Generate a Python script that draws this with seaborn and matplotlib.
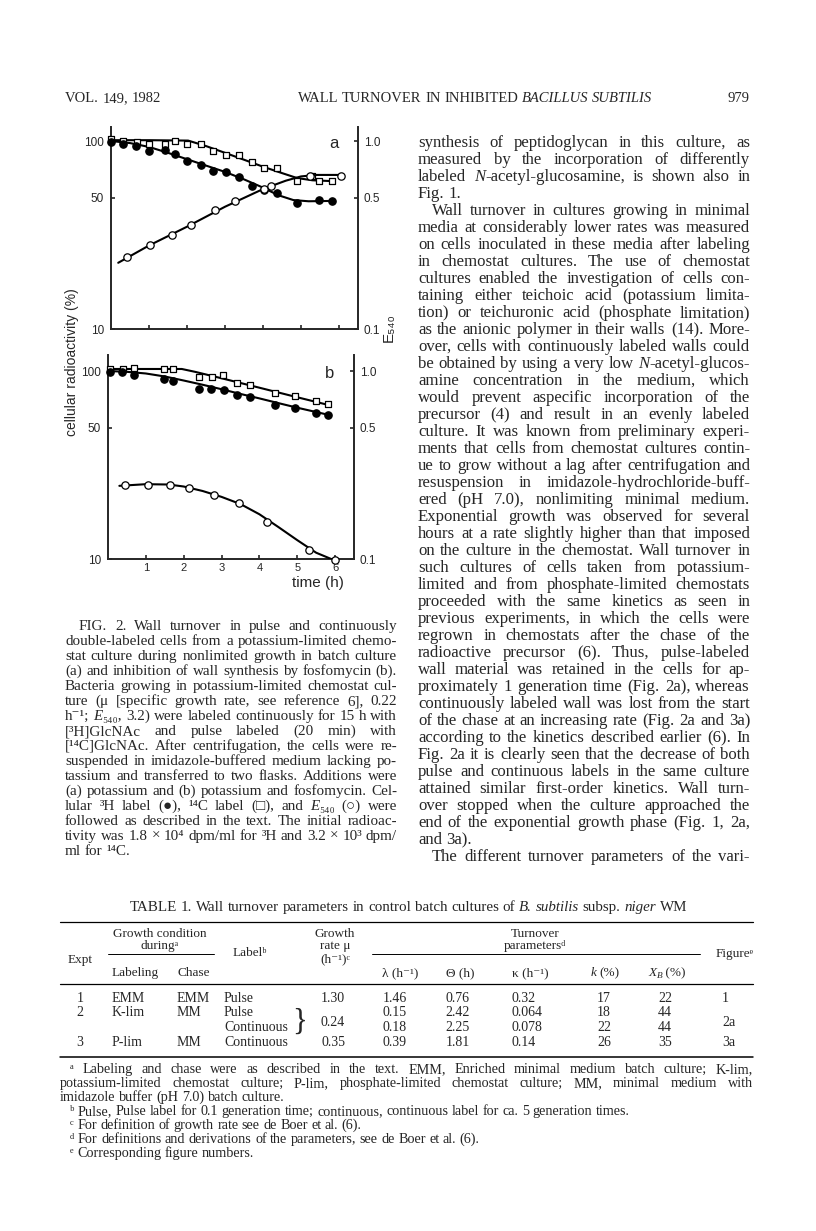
import matplotlib.pyplot as plt
import seaborn as sns
from matplotlib.lines import Line2D
from matplotlib.ticker import FixedLocator, NullLocator

W, H = 816, 1231
SERIF = ['Liberation Serif', 'DejaVu Serif', 'DejaVu Sans']
SANS = ['Liberation Sans', 'DejaVu Sans']

# ---------------- Fig. 2a : potassium added ----------------
# 14C pulse label (open squares), % of initial
hours_pulse_a = [0.0, 0.32, 0.68, 1.01, 1.43, 1.68, 2.01, 2.36, 2.69, 3.03, 3.38, 3.70, 4.03, 4.36, 4.89, 5.30, 5.48, 5.81]
pulse_a = [103, 100, 98.8, 96.8, 96.4, 99.6, 96.8, 96.4, 88.4, 83.8, 84.5, 77.2, 72.0, 71.7, 61.6, 65.5, 60.9, 60.9]
# 3H continuous label (filled circles)
hours_cont_a = [0.0, 0.32, 0.66, 1.01, 1.43, 1.68, 2.01, 2.36, 2.69, 3.03, 3.38, 3.70, 4.03, 4.36, 4.90, 5.48, 5.81]
cont_a = [98.8, 96.0, 94.0, 89.0, 90.0, 85.6, 77.9, 74.1, 69.1, 68.3, 64.2, 57.3, 54.9, 53.0, 46.6, 48.8, 48.1]
# E540 (open circles)
hours_e540_a = [0.41, 1.03, 1.61, 2.11, 2.74, 3.26, 4.03, 4.20, 5.24, 6.04]
e540_a = [0.242, 0.281, 0.318, 0.357, 0.430, 0.480, 0.556, 0.575, 0.655, 0.655]
# hand drawn curves
line_pulse_a_h = [0.0, 1.0, 2.03, 2.5, 3.0, 3.5, 4.0, 4.5, 4.9, 5.3, 5.81]
line_pulse_a = [101, 101, 100.5, 94, 86.5, 79.5, 73, 67.5, 63.5, 61.8, 61.2]
line_cont_a_h = [0.0, 0.5, 1.0, 1.5, 2.0, 2.5, 3.0, 3.5, 4.0, 4.4, 4.8, 5.2, 5.81]
line_cont_a = [100, 97.5, 93, 86.5, 80, 74, 68.5, 62.5, 56.5, 51.5, 48.5, 47.8, 48]
line_e540_a_h = [0.19, 1.0, 2.0, 3.0, 4.0, 4.6, 5.0, 5.4, 6.04]
line_e540_a = [0.225, 0.278, 0.35, 0.447, 0.555, 0.615, 0.648, 0.66, 0.66]

# ---------------- Fig. 2b : potassium + fosfomycin ----------------
hours_pulse_b = [0.04, 0.39, 0.70, 1.49, 1.73, 2.41, 2.74, 3.05, 3.42, 3.74, 4.42, 4.93, 5.50, 5.82]
pulse_b = [102.5, 102, 103.3, 102.5, 102.5, 92.6, 93.3, 94.8, 86.3, 84.6, 76.4, 73.4, 69.0, 66.8]
hours_cont_b = [0.04, 0.36, 0.69, 1.49, 1.73, 2.41, 2.72, 3.07, 3.42, 3.74, 4.42, 4.93, 5.50, 5.82]
cont_b = [99.2, 98.4, 95.2, 90.7, 88.5, 80.6, 80.6, 79.6, 74.6, 73.1, 66.3, 63.9, 60.1, 58.4]
hours_e540_b = [0.46, 1.05, 1.64, 2.13, 2.80, 3.47, 4.21, 5.30, 6.0]
e540_b = [0.249, 0.249, 0.248, 0.239, 0.218, 0.198, 0.158, 0.111, 0.099]
line_pulse_b_h = [0.0, 1.95, 2.3, 3.0, 4.0, 5.0, 5.82]
line_pulse_b = [102.5, 102.5, 99, 91.5, 81.5, 72.5, 66]
line_cont_b_h = [0.0, 0.5, 1.0, 1.5, 2.0, 2.5, 3.0, 3.5, 4.0, 4.5, 5.0, 5.5, 5.82]
line_cont_b = [100, 99, 97, 93.5, 89, 84.5, 80, 75.5, 71.5, 67.5, 63.8, 60.5, 58.5]
line_e540_b_h = [0.3, 1.0, 1.6, 2.0, 2.5, 3.0, 3.5, 4.0, 4.5, 5.0, 5.5, 5.95]
line_e540_b = [0.245, 0.25, 0.249, 0.243, 0.23, 0.214, 0.196, 0.173, 0.148, 0.126, 0.108, 0.099]

hour_ticks = [1, 2, 3, 4, 5, 6]
left_ticks = [10, 50, 100]
right_ticks = [0.1, 0.5, 1.0]

# ---------------- page text ----------------
header_left = "VOL. 149, 1982"
header_title = "WALL TURNOVER IN INHIBITED _BACILLUS SUBTILIS_"
page_number = "979"

caption_lines = [
    "FIG. 2. Wall turnover in pulse and continuously",
    "double-labeled cells from a potassium-limited chemo-",
    "stat culture during nonlimited growth in batch culture",
    "(a) and inhibition of wall synthesis by fosfomycin (b).",
    "Bacteria growing in potassium-limited chemostat cul-",
    "ture (μ [specific growth rate, see reference 6], 0.22",
    "h⁻¹; _E_₅₄₀, 3.2) were labeled continuously for 15 h with",
    "[³H]GlcNAc and pulse labeled (20 min) with",
    "[¹⁴C]GlcNAc. After centrifugation, the cells were re-",
    "suspended in imidazole-buffered medium lacking po-",
    "tassium and transferred to two flasks. Additions were",
    "(a) potassium and (b) potassium and fosfomycin. Cel-",
    "lular ³H label (●), ¹⁴C label (□), and _E_₅₄₀ (○) were",
    "followed as described in the text. The initial radioac-",
    "tivity was 1.8 × 10⁴ dpm/ml for ³H and 3.2 × 10³ dpm/",
    "ml for ¹⁴C.",
]

body_lines = [
    "synthesis of peptidoglycan in this culture, as",
    "measured by the incorporation of differently",
    "labeled _N_-acetyl-glucosamine, is shown also in",
    "Fig. 1.",
    "Wall turnover in cultures growing in minimal",
    "media at considerably lower rates was measured",
    "on cells inoculated in these media after labeling",
    "in chemostat cultures. The use of chemostat",
    "cultures enabled the investigation of cells con-",
    "taining either teichoic acid (potassium limita-",
    "tion) or teichuronic acid (phosphate limitation)",
    "as the anionic polymer in their walls (14). More-",
    "over, cells with continuously labeled walls could",
    "be obtained by using a very low _N_-acetyl-glucos-",
    "amine concentration in the medium, which",
    "would prevent aspecific incorporation of the",
    "precursor (4) and result in an evenly labeled",
    "culture. It was known from preliminary experi-",
    "ments that cells from chemostat cultures contin-",
    "ue to grow without a lag after centrifugation and",
    "resuspension in imidazole-hydrochloride-buff-",
    "ered (pH 7.0), nonlimiting minimal medium.",
    "Exponential growth was observed for several",
    "hours at a rate slightly higher than that imposed",
    "on the culture in the chemostat. Wall turnover in",
    "such cultures of cells taken from potassium-",
    "limited and from phosphate-limited chemostats",
    "proceeded with the same kinetics as seen in",
    "previous experiments, in which the cells were",
    "regrown in chemostats after the chase of the",
    "radioactive precursor (6). Thus, pulse-labeled",
    "wall material was retained in the cells for ap-",
    "proximately 1 generation time (Fig. 2a), whereas",
    "continuously labeled wall was lost from the start",
    "of the chase at an increasing rate (Fig. 2a and 3a)",
    "according to the kinetics described earlier (6). In",
    "Fig. 2a it is clearly seen that the decrease of both",
    "pulse and continuous labels in the same culture",
    "attained similar first-order kinetics. Wall turn-",
    "over stopped when the culture approached the",
    "end of the exponential growth phase (Fig. 1, 2a,",
    "and 3a).",
    "The different turnover parameters of the vari-",
]
body_indent = {4, 42}
body_last = {3, 41}

table_title = "TABLE 1. Wall turnover parameters in control batch cultures of _B. subtilis_ subsp. _niger_ WM"
expt = ["1", "2", "", "3"]
labeling = ["EMM", "K-lim", "", "P-lim"]
chase = ["EMM", "MM", "", "MM"]
label = ["Pulse", "Pulse", "Continuous", "Continuous"]
growth_rate = ["1.30", "", "", "0.35"]
lam = ["1.46", "0.15", "0.18", "0.39"]
theta = ["0.76", "2.42", "2.25", "1.81"]
kappa = ["0.32", "0.064", "0.078", "0.14"]
k_pct = ["17", "18", "22", "26"]
xb_pct = ["22", "44", "44", "35"]
figure_no = ["1", "", "", "3a"]

footnotes = [
    ("ᵃ Labeling and chase were as described in the text. EMM, Enriched minimal medium batch culture; K-lim,", True, True),
    ("potassium-limited chemostat culture; P-lim, phosphate-limited chemostat culture; MM, minimal medium with", False, True),
    ("imidazole buffer (pH 7.0) batch culture.", False, False),
    ("ᵇ Pulse, Pulse label for 0.1 generation time; continuous, continuous label for ca. 5 generation times.", True, False),
    ("ᶜ For definition of growth rate see de Boer et al. (6).", True, False),
    ("ᵈ For definitions and derivations of the parameters, see de Boer et al. (6).", True, False),
    ("ᵉ Corresponding figure numbers.", True, False),
]

# ---------------- figure ----------------
sns.set_style("ticks")
plt.rcParams['font.family'] = SANS

fig = plt.figure(figsize=(W / 100, H / 100), dpi=100)
renderer = fig.canvas.get_renderer()


def fx(x):
    return x / W


def fy(y):
    return 1 - y / H


def draw_panel(x0, x1, y_top, y_ten, sets, letter, show_labels):
    decade = 188.0
    ytop = 10 * 10 ** ((y_ten - y_top) / decade)
    ax = fig.add_axes([fx(x0), fy(y_ten), (x1 - x0) / W, (y_ten - y_top) / H])
    ax2 = ax.twinx()
    for a in (ax, ax2):
        a.set_yscale('log')
        a.patch.set_visible(False)
    ax.set_xlim(0, 6.5)
    ax.set_ylim(10, ytop)
    ax2.set_ylim(0.1, ytop / 100)

    for line_h, line_v, pts_h, pts_v, marker, face, twin in sets:
        target = ax2 if twin else ax
        sns.lineplot(x=line_h, y=line_v, ax=target, color='black', linewidth=1.5,
                     estimator=None, sort=False, legend=False)
        sns.scatterplot(x=pts_h, y=pts_v, ax=target, marker=marker,
                        s=28 if marker == 'o' else 24, color=face, edgecolor='black',
                        linewidth=0.9, legend=False, zorder=4, clip_on=False)

    ax.yaxis.set_major_locator(FixedLocator(left_ticks))
    ax.yaxis.set_minor_locator(NullLocator())
    ax.set_yticklabels([str(t) for t in left_ticks])
    ax2.yaxis.set_major_locator(FixedLocator(right_ticks))
    ax2.yaxis.set_minor_locator(NullLocator())
    ax2.set_yticklabels(['0.1', '0.5', '1.0'])
    ax.set_xticks(hour_ticks)
    if show_labels:
        ax.set_xticklabels([str(t) for t in hour_ticks])
    else:
        ax.set_xticklabels([])
    ax.tick_params(axis='y', direction='in', length=3, width=1.2, labelsize=8.5, pad=5)
    ax.tick_params(axis='x', direction='in', length=3, width=1.2, labelsize=8, pad=3)
    ax2.tick_params(axis='y', direction='in', length=3, width=1.2, labelsize=8.5, pad=4)
    ax.set_xlabel('')
    ax.set_ylabel('')
    ax2.set_ylabel('')

    for a in (ax, ax2):
        a.spines['top'].set_visible(False)
        for s in a.spines.values():
            s.set_linewidth(1.4)
    ax.spines['right'].set_visible(False)
    ax2.spines['left'].set_visible(False)
    ax2.spines['bottom'].set_visible(False)
    fig.text(fx(x1 - 24), fy(y_ten - decade + 2), letter, fontsize=12, family=SANS,
             ha='center', va='center')
    return ax


draw_panel(111, 358, 127, 329, [
    (line_pulse_a_h, line_pulse_a, hours_pulse_a, pulse_a, 's', 'white', False),
    (line_cont_a_h, line_cont_a, hours_cont_a, cont_a, 'o', 'black', False),
    (line_e540_a_h, line_e540_a, hours_e540_a, e540_a, 'o', 'white', True),
], 'a', False)

draw_panel(108, 354, 355, 559, [
    (line_pulse_b_h, line_pulse_b, hours_pulse_b, pulse_b, 's', 'white', False),
    (line_cont_b_h, line_cont_b, hours_cont_b, cont_b, 'o', 'black', False),
    (line_e540_b_h, line_e540_b, hours_e540_b, e540_b, 'o', 'white', True),
], 'b', True)

fig.text(fx(72), fy(362), 'cellular radioactivity (%)', rotation=90, fontsize=10,
         family=SANS, ha='center', va='center')
fig.text(fx(389), fy(328), 'E₅₄₀', rotation=90, fontsize=11, family=SANS,
         ha='center', va='center')
fig.text(fx(318), fy(583), 'time (h)', fontsize=11, family=SANS, ha='center', va='center')

# ---------------- text helpers ----------------
_cache = {}


def tw(s, size, italic=False):
    key = (s, size, italic)
    if key not in _cache:
        t = fig.text(0, 0, s, fontsize=size, family=SERIF,
                     style='italic' if italic else 'normal')
        _cache[key] = t.get_window_extent(renderer).width
        t.remove()
    return _cache[key]


def split_words(line):
    out, it = [], False
    for word in line.split(' '):
        parts, buf = [], ''
        for ch in word:
            if ch == '_':
                if buf:
                    parts.append((buf, it))
                buf, it = '', not it
            else:
                buf += ch
        if buf:
            parts.append((buf, it))
        out.append(parts)
    return out


def natural_width(line, size):
    words = split_words(line)
    space = tw('a a', size) - tw('aa', size)
    return sum(sum(tw(t, size, i) for t, i in w) for w in words) + space * (len(words) - 1)


def put_line(line, x0, x1, base, size, justify):
    words = split_words(line)
    widths = [sum(tw(t, size, i) for t, i in w) for w in words]
    space = tw('a a', size) - tw('aa', size)
    gap = space
    if justify and len(words) > 1:
        gap = (x1 - x0 - sum(widths)) / (len(words) - 1)
    x = x0
    for w, wd in zip(words, widths):
        xx = x
        for t, i in w:
            fig.text(fx(xx), fy(base), t, fontsize=size, family=SERIF,
                     style='italic' if i else 'normal', va='baseline', ha='left')
            xx += tw(t, size, i)
        x += wd + gap


def fit_size(lines, width, indents=()):
    best = 99
    for n, line in enumerate(lines):
        room = width - (14 if n in indents else 0)
        best = min(best, 10 * room / natural_width(line, 10))
    return round(best * 0.99, 2)


# header
put_line(header_left, 65, 750, 102, 10.5, False)
put_line(header_title, 298, 750, 102, 10.5, False)
fig.text(fx(750), fy(102), page_number, fontsize=10.5, family=SERIF, ha='right', va='baseline')

# right column
size_body = fit_size(body_lines, 332, body_indent)
for n, line in enumerate(body_lines):
    ind = 14 if n in body_indent else 0
    put_line(line, 418 + ind, 750, 147 + n * 17.0, size_body, n not in body_last)

# caption
size_cap = fit_size(caption_lines, 332, {0})
for n, line in enumerate(caption_lines):
    ind = 14 if n == 0 else 0
    put_line(line, 65 + ind, 397, 630 + n * 15.0, size_cap, n != len(caption_lines) - 1)

# ---------------- table ----------------
tsize = 10
hsize = 9.5
title_size = round(10 * 554 / natural_width(table_title, 10), 2)
put_line(table_title, 407 - 277, 750, 911, title_size, False)


def rule(y, x0=60, x1=753, lw=0.9):
    fig.add_artist(Line2D([fx(x0), fx(x1)], [fy(y), fy(y)], color='black', lw=lw))


def cell(x, y, s, ha='center', size=tsize):
    fig.text(fx(x), fy(y), s, fontsize=size, family=SERIF, ha=ha, va='baseline')


def cell_xb(xc, y, size):
    # X with subscript B, then (%)
    parts = [('X', size, True, 0), ('B', size * 0.7, True, 2.5), (' (%)', size, False, 0)]
    total = sum(tw(t, s, i) for t, s, i, _ in parts)
    x = xc - total / 2
    for t, s, i, dy in parts:
        fig.text(fx(x), fy(y + dy), t, fontsize=s, family=SERIF,
                 style='italic' if i else 'normal', va='baseline', ha='left')
        x += tw(t, s, i)


rule(922)
L1, L2, L3, L4 = 937, 949, 962, 976
cell(160, L1, 'Growth condition', size=hsize)
cell(160, L2, 'duringᵃ', size=hsize)
rule(954, 108, 214, 0.7)
cell(80, L3 + 1, 'Expt', size=hsize)
cell(112, L4, 'Labeling', ha='left', size=hsize)
cell(177, L4, 'Chase', ha='left', size=hsize)
cell(250, (L2 + L3) / 2 + 1, 'Labelᵇ', size=hsize)
cell(335, L1, 'Growth', size=hsize)
cell(335, L2, 'rate μ', size=hsize)
cell(335, L3, '(h⁻¹)ᶜ', size=hsize)
cell(535, L1, 'Turnover', size=hsize)
cell(535, L2, 'parametersᵈ', size=hsize)
rule(954, 372, 700, 0.7)
cell(400, L4, 'λ (h⁻¹)', size=hsize)
cell(460, L4, 'Θ (h)', size=hsize)
cell(512, L4, 'κ (h⁻¹)', ha='left', size=hsize)
put_line('_k_ (%)', 605 - natural_width('_k_ (%)', hsize) / 2, 750, L4, hsize, False)
cell_xb(667, L4, hsize)
cell(735, (L2 + L3) / 2 + 1, 'Figureᵉ', size=hsize)
rule(984)

rows = [1002, 1016, 1031, 1046]
for n, y in enumerate(rows):
    cell(80, y, expt[n])
    cell(112, y, labeling[n], ha='left')
    cell(177, y, chase[n], ha='left')
    cell(224, y, label[n], ha='left')
    cell(333, y, growth_rate[n])
    cell(395, y, lam[n])
    cell(458, y, theta[n])
    cell(512, y, kappa[n], ha='left')
    cell(604, y, k_pct[n])
    cell(665, y, xb_pct[n])
    cell(722, y, figure_no[n], ha='left')
mid = (rows[1] + rows[2]) / 2
cell(333, mid + 3, '0.24')
cell(722, mid + 3, '2a', ha='left')
fig.text(fx(300), fy(mid - 1), '}', fontsize=22, family=SERIF, ha='center', va='center')
rule(1057, lw=1.1)

# footnotes: fixed size, first two lines justified across the table width
fsize = 10.2
for n, (line, indent, justify) in enumerate(footnotes):
    ind = 10 if indent else 0
    put_line(line, 60 + ind, 753, 1073 + n * 14.0, fsize, justify)

fig.savefig('out.png', dpi=100)
